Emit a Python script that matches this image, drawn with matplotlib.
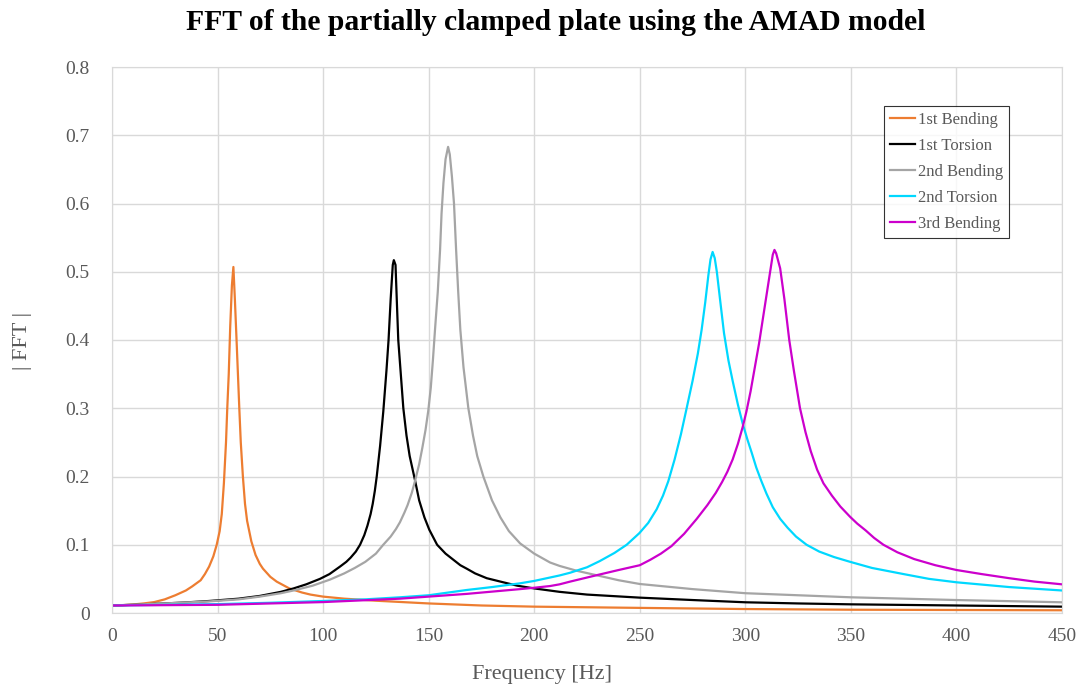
import matplotlib
matplotlib.use('Agg')
import matplotlib.pyplot as plt

plt.rcParams['font.family'] = ['Liberation Serif', 'DejaVu Serif']

# 1st Bending
f_b1 = [0, 5, 10, 15, 20, 25, 30, 35, 38, 42, 44, 46, 48, 49.6, 51, 52, 53, 54, 54.6, 55.3, 56, 56.8,
        57.5, 58.2, 59, 60.3, 61, 62, 63, 64, 66, 68, 70, 71.5, 75, 78, 84, 90, 94, 100, 110, 125,
        150, 175, 200, 250, 300, 350, 400, 450]
v_b1 = [0.011, 0.0115, 0.0125, 0.014, 0.016, 0.02, 0.026, 0.033, 0.039, 0.048, 0.057, 0.068, 0.083,
        0.10, 0.12, 0.145, 0.19, 0.25, 0.30, 0.35, 0.42, 0.48, 0.507, 0.46, 0.40, 0.30, 0.25, 0.20,
        0.16, 0.135, 0.105, 0.085, 0.072, 0.065, 0.053, 0.046, 0.036, 0.03, 0.027, 0.024, 0.021,
        0.018, 0.014, 0.011, 0.0093, 0.0075, 0.0058, 0.0048, 0.0044, 0.004]

# 1st Torsion
f_t1 = [0, 10, 25, 35, 46, 60, 70, 80, 86, 92, 98.5, 103, 108, 111, 113, 115.5, 117.5, 119.5, 121,
        122.5, 123.5, 124.5, 125.4, 127, 128.5, 130, 131, 132, 133, 133.5, 134.3, 135, 135.6, 136.8,
        138, 139.5, 141, 143.5, 145.5, 148, 150.3, 154, 158, 161.7, 165, 168, 172, 177.5, 184, 192,
        200, 212, 225, 250, 275, 300, 325, 350, 400, 450]
v_t1 = [0.011, 0.012, 0.014, 0.0155, 0.0176, 0.021, 0.025, 0.031, 0.036, 0.042, 0.050, 0.057, 0.068,
        0.075, 0.081, 0.09, 0.10, 0.114, 0.128, 0.145, 0.16, 0.179, 0.20, 0.245, 0.295, 0.355,
        0.40, 0.46, 0.51, 0.517, 0.51, 0.45, 0.40, 0.35, 0.30, 0.26, 0.23, 0.195, 0.165, 0.14,
        0.122, 0.10, 0.087, 0.078, 0.07, 0.065, 0.058, 0.051, 0.046, 0.04, 0.036, 0.031, 0.027,
        0.0225, 0.019, 0.0157, 0.014, 0.0127, 0.011, 0.0093]

# 2nd Bending
f_b2 = [0, 25, 46, 60, 70, 80, 86, 95, 103.3, 110, 115, 120, 125, 128.5, 132, 134.5, 136.4, 138.5,
        140, 142, 143.5, 145.5, 147, 148.5, 149.8, 151, 152, 153, 154.3, 155.4, 156.1, 157, 158,
        159.2, 160, 161, 162, 163, 164, 165, 166.5, 168.8, 171, 173, 175.9, 180, 184, 188, 193.3,
        200, 207.5, 212, 220, 230, 240, 250, 275, 300, 325, 350, 400, 450]
v_b2 = [0.011, 0.014, 0.017, 0.02, 0.024, 0.029, 0.033, 0.04, 0.049, 0.058, 0.066, 0.075, 0.087,
        0.10, 0.112, 0.123, 0.133, 0.147, 0.158, 0.176, 0.193, 0.218, 0.242, 0.268, 0.296, 0.33,
        0.37, 0.415, 0.47, 0.532, 0.585, 0.63, 0.665, 0.683, 0.672, 0.64, 0.60, 0.532, 0.47, 0.415,
        0.36, 0.30, 0.26, 0.23, 0.20, 0.165, 0.14, 0.12, 0.102, 0.087, 0.074, 0.069, 0.062, 0.055,
        0.048, 0.0425, 0.035, 0.029, 0.026, 0.023, 0.019, 0.0157]

# 2nd Torsion
f_t2 = [0, 25, 50, 75, 100, 120, 136.4, 150, 168, 180, 193.3, 200, 207.5, 212, 217, 225, 231, 238,
        243.8, 249.8, 254, 258, 261, 263.5, 266.5, 269.5, 272.2, 275, 277.5, 279.3, 281, 282.5,
        283.5, 284.5, 285.5, 286.5, 288, 289.9, 292, 294, 296.5, 298.7, 301, 303, 305.2, 307.5,
        310, 313, 316.5, 320, 324, 329, 335, 342, 349.6, 360, 375, 387, 400, 425, 450]
v_t2 = [0.011, 0.012, 0.013, 0.015, 0.0176, 0.02, 0.023, 0.026, 0.0337, 0.038, 0.0435, 0.047, 0.052,
        0.055, 0.059, 0.067, 0.076, 0.088, 0.10, 0.117, 0.132, 0.152, 0.172, 0.193, 0.225, 0.262,
        0.30, 0.34, 0.38, 0.415, 0.455, 0.495, 0.518, 0.529, 0.52, 0.50, 0.46, 0.41, 0.37, 0.34,
        0.305, 0.278, 0.254, 0.235, 0.213, 0.194, 0.175, 0.155, 0.138, 0.125, 0.112, 0.10, 0.09,
        0.082, 0.075, 0.066, 0.057, 0.05, 0.045, 0.038, 0.033]

# 3rd Bending
f_b3 = [0, 50, 100, 136.4, 168, 193.3, 200, 207.5, 212, 217, 230, 240, 250, 255, 260, 265, 271, 277,
        282, 286, 289, 291.5, 294, 296.5, 298.7, 300.5, 302.5, 304.5, 306.5, 308.5, 310.5, 312,
        313, 313.8, 314.6, 316.5, 318.5, 320.8, 323, 325.9, 328.5, 331, 334, 337, 341, 345, 349.6,
        353, 357, 361, 365.4, 372, 380, 390, 400, 412, 425, 437, 450]
v_b3 = [0.011, 0.012, 0.016, 0.021, 0.028, 0.035, 0.037, 0.0395, 0.042, 0.046, 0.0557, 0.063, 0.070,
        0.078, 0.087, 0.098, 0.116, 0.138, 0.158, 0.176, 0.192, 0.207, 0.225, 0.248, 0.272, 0.295,
        0.325, 0.36, 0.395, 0.435, 0.475, 0.505, 0.525, 0.532, 0.527, 0.505, 0.46, 0.40, 0.355,
        0.30, 0.265, 0.237, 0.21, 0.19, 0.172, 0.156, 0.141, 0.131, 0.121, 0.11, 0.10, 0.089,
        0.079, 0.07, 0.063, 0.057, 0.051, 0.046, 0.042]

series = [
    ('1st Bending', f_b1, v_b1, '#ED7D31'),
    ('1st Torsion', f_t1, v_t1, '#000000'),
    ('2nd Bending', f_b2, v_b2, '#A5A5A5'),
    ('2nd Torsion', f_t2, v_t2, '#00D8FF'),
    ('3rd Bending', f_b3, v_b3, '#CC00CC'),
]

fig = plt.figure(figsize=(10.78, 6.9), dpi=100)
ax = fig.add_axes([112 / 1078, 77 / 690, 950 / 1078, 546 / 690])

for nome, f, v, cor in series:
    ax.plot(f, v, color=cor, linewidth=1.6, label=nome)

ax.set_xlim(0, 450)
ax.set_ylim(0, 0.8)
ax.set_xticks(range(0, 451, 50))
ax.set_yticks([0, 0.1, 0.2, 0.3, 0.4, 0.5, 0.6, 0.7, 0.8])
ax.set_yticklabels(['0', '0.1', '0.2', '0.3', '0.4', '0.5', '0.6', '0.7', '0.8'])
ax.grid(True, color='#D9D9D9', linewidth=1)
ax.set_axisbelow(True)
for s in ax.spines.values():
    s.set_color('#D9D9D9')
ax.tick_params(length=0, labelsize=14, labelcolor='#595959')
ax.tick_params(axis='y', pad=16)
ax.tick_params(axis='x', pad=11)

fig.text(556 / 1078, 1 - 30 / 690, 'FFT of the partially clamped plate using the AMAD model',
         ha='center', va='baseline', fontsize=21.3, fontweight='bold')
fig.text(542 / 1078, 1 - 674 / 690, 'Frequency [Hz]', ha='center', va='center',
         fontsize=16, color='#595959')
fig.text(22 / 1078, 1 - 341 / 690, '| FFT |', ha='center', va='center', rotation=90,
         fontsize=16, color='#595959')

leg = ax.legend(loc='upper left', bbox_to_anchor=(884 / 1078, 1 - 106 / 690),
                bbox_transform=fig.transFigure, fontsize=12, frameon=True, fancybox=False,
                handlelength=1.5, handletextpad=0.2, labelspacing=0.6, borderpad=0.35,
                borderaxespad=0)
leg.get_frame().set_edgecolor('#000000')
leg.get_frame().set_linewidth(0.8)
for t in leg.get_texts():
    t.set_color('#595959')

fig.savefig('out.png', dpi=100)
